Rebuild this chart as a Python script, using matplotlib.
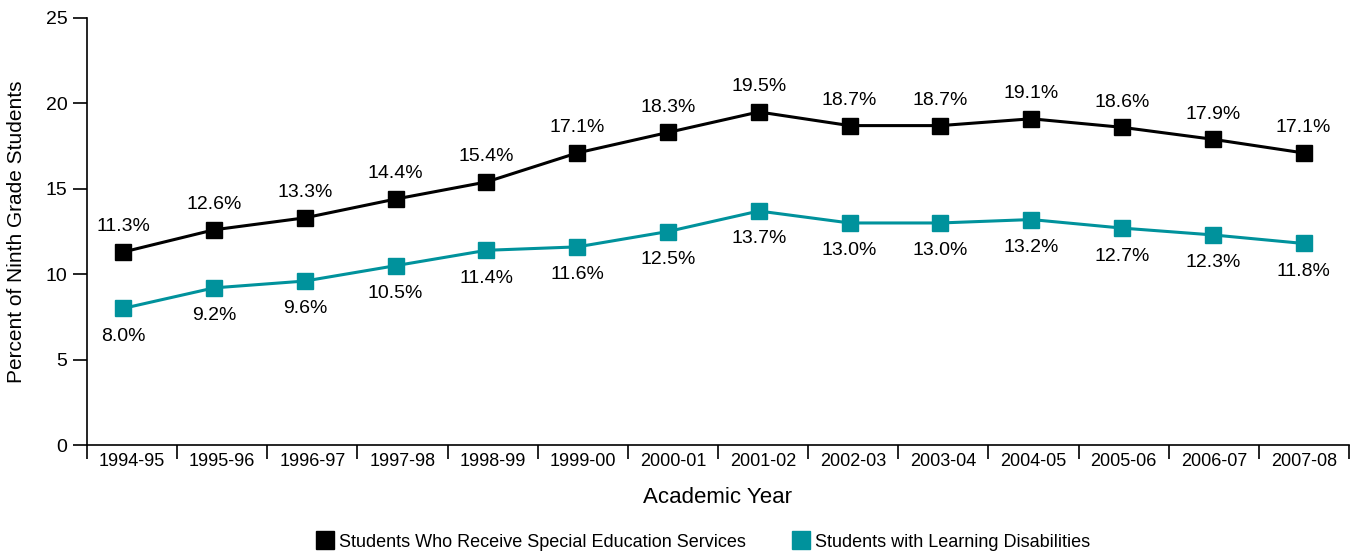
import numpy as np
import matplotlib
matplotlib.use('Agg')
import matplotlib.pyplot as plt
from matplotlib.lines import Line2D

plt.rcParams['font.family'] = ['Liberation Sans Narrow', 'Liberation Sans', 'DejaVu Sans']

# data
years = ['1994-95', '1995-96', '1996-97', '1997-98', '1998-99', '1999-00', '2000-01',
         '2001-02', '2002-03', '2003-04', '2004-05', '2005-06', '2006-07', '2007-08']
special_ed = [11.3, 12.6, 13.3, 14.4, 15.4, 17.1, 18.3, 19.5, 18.7, 18.7, 19.1, 18.6, 17.9, 17.1]
learning_dis = [8.0, 9.2, 9.6, 10.5, 11.4, 11.6, 12.5, 13.7, 13.0, 13.0, 13.2, 12.7, 12.3, 11.8]

black = '#000000'
teal = '#00929c'

fig = plt.figure(figsize=(13.52, 5.52), dpi=100)
ax = fig.add_axes([0.0643, 0.1938, 0.9335, 0.7736])

x = np.arange(len(years))
ax.plot(x, special_ed, color=black, lw=2.2, marker='s', ms=12, zorder=3)
ax.plot(x, learning_dis, color=teal, lw=2.2, marker='s', ms=12, zorder=3)

for xi, v in zip(x, special_ed):
    ax.annotate('%.1f%%' % v, (xi, v), xytext=(0, 12), textcoords='offset points',
                ha='center', va='bottom', fontsize=14)
for xi, v in zip(x, learning_dis):
    ax.annotate('%.1f%%' % v, (xi, v), xytext=(0, -14), textcoords='offset points',
                ha='center', va='top', fontsize=14)

xmin, xmax = -0.4, 13.5
ax.set_xlim(xmin, xmax)
ax.set_ylim(0, 25)

# tick marks sit on the category boundaries, labels in between
bounds = np.linspace(xmin, xmax, len(years) + 1)
ax.set_xticks(bounds)
ax.set_xticklabels([])
ax.set_xticks((bounds[:-1] + bounds[1:]) / 2, minor=True)
ax.set_xticklabels(years, minor=True, fontsize=13)
ax.tick_params(axis='x', which='major', length=10, width=1.2, direction='out')
ax.tick_params(axis='x', which='minor', length=0, pad=6)

ax.set_yticks([0, 5, 10, 15, 20, 25])
ax.tick_params(axis='y', length=10, width=1.2, labelsize=14, pad=4)

for s in ['top', 'right']:
    ax.spines[s].set_visible(False)
for s in ['left', 'bottom']:
    ax.spines[s].set_linewidth(1.2)

ax.set_ylabel('Percent of Ninth Grade Students', fontsize=15, labelpad=14)
ax.set_xlabel('Academic Year', fontsize=16, labelpad=12)

handles = [Line2D([], [], ls='none', marker='s', ms=13, color=black),
           Line2D([], [], ls='none', marker='s', ms=13, color=teal)]
fig.legend(handles, ['Students Who Receive Special Education Services',
                     'Students with Learning Disabilities'],
           loc='center', bbox_to_anchor=(0.52, 0.018), ncol=2, frameon=False,
           fontsize=13, handletextpad=0.3, columnspacing=2.5, handlelength=1.0)

fig.savefig('out.png', dpi=100)
